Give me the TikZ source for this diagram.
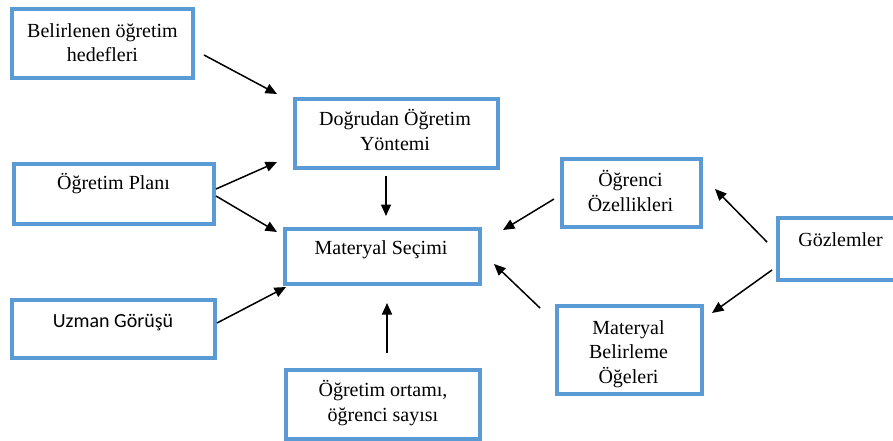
\documentclass[tikz,border=0pt]{standalone}
\usepackage{fontspec}
\setmainfont{Liberation Serif}
\newfontfamily\carlito{Carlito}
\usetikzlibrary{arrows.meta}
\definecolor{boxblue}{RGB}{91,155,213}
\tikzset{
  box/.style={draw=boxblue, line width=4pt, rectangle, inner sep=0pt},
  lbl/.style={anchor=base, align=center, inner sep=0pt, font=\fontsize{20}{24.5}\selectfont},
  arr/.style={-{Triangle[length=11.5pt,width=10pt]}, line width=1.5pt, black}
}
\begin{document}
\begin{tikzpicture}[x=1pt,y=-1pt]
\useasboundingbox (0,0) rectangle (893,441);
\clip (0,0) rectangle (893,441);
% boxes
\node[box, minimum width=181pt, minimum height=69pt] (bel) at (102.5,43.5) {};
\node[box, minimum width=203pt, minimum height=69pt] (dog) at (396.5,133.5) {};
\node[box, minimum width=200pt, minimum height=60pt] (plan) at (114,194) {};
\node[box, minimum width=195pt, minimum height=55pt] (mat) at (382.5,256.5) {};
\node[box, minimum width=203pt, minimum height=58pt] (uzm) at (113.5,329) {};
\node[box, minimum width=194pt, minimum height=69pt] (ort) at (383,404.5) {};
\node[box, minimum width=139pt, minimum height=68pt] (ogr) at (631.5,193) {};
\node[box, minimum width=145pt, minimum height=88pt] (mbl) at (629.5,350) {};
\node[box, minimum width=132pt, minimum height=62pt] (goz) at (844,249) {};
% texts (anchor = baseline of the last line)
\node[lbl] (bel-t) at (102.5,62) {Belirlenen öğretim\\hedefleri};
\node[lbl] (dog-t) at (395,150) {Doğrudan Öğretim\\Yöntemi};
\node[lbl] (plan-t) at (113.5,189) {Öğretim Planı};
\node[lbl] (mat-t) at (381,254) {Materyal Seçimi};
\node[lbl, font=\carlito\fontsize{20}{24.5}\selectfont] (uzm-t) at (113,327) {Uzman Görüşü};
\node[lbl] (ort-t) at (383,421) {Öğretim ortamı,\\öğrenci sayısı};
\node[lbl] (ogr-t) at (630.5,211) {Öğrenci\\Özellikleri};
\node[lbl] (goz-t) at (840.5,246) {Gözlemler};
\node[lbl] (mbl-t) at (628.5,383) {Materyal\\Belirleme\\Öğeleri};
% connector ends
\coordinate (a1s) at (204,55);  \coordinate (a1e) at (277,94);
\coordinate (a2s) at (216,189); \coordinate (a2e) at (277,162);
\coordinate (a3s) at (216,196); \coordinate (a3e) at (277,232);
\coordinate (a4s) at (386,176); \coordinate (a4e) at (386,216);
\coordinate (a5s) at (217,323); \coordinate (a5e) at (286,287);
\coordinate (a6s) at (387,353); \coordinate (a6e) at (387,303);
\coordinate (a7s) at (554,199); \coordinate (a7e) at (503,230);
\coordinate (a8s) at (540,308); \coordinate (a8e) at (494,264);
\coordinate (a9s) at (767,242); \coordinate (a9e) at (715,189);
\coordinate (a10s) at (772,270); \coordinate (a10e) at (712,313);
% connectors
\draw[arr] (a1s) -- (a1e);
\draw[arr] (a2s) -- (a2e);
\draw[arr] (a3s) -- (a3e);
\draw[arr] (a4s) -- (a4e);
\draw[arr] (a5s) -- (a5e);
\draw[arr] (a6s) -- (a6e);
\draw[arr] (a7s) -- (a7e);
\draw[arr] (a8s) -- (a8e);
\draw[arr] (a9s) -- (a9e);
\draw[arr] (a10s) -- (a10e);
\end{tikzpicture}
\end{document}
